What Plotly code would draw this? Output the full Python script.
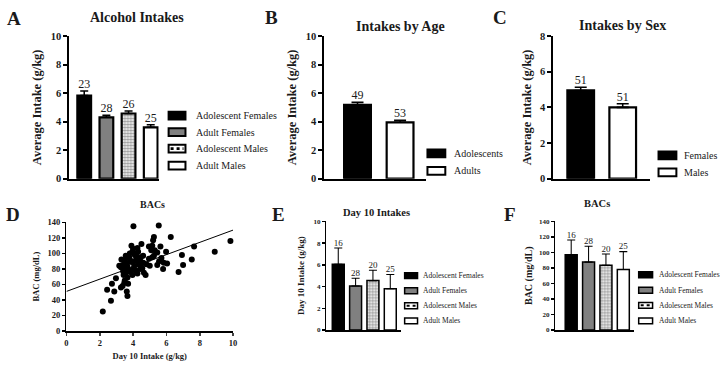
import plotly.graph_objects as go

FONT = "'Liberation Serif', 'Times New Roman', Times, serif"
W, H = 726, 370

# ---------------- data ----------------
groups = ["Adolescent Females", "Adult Females", "Adolescent Males", "Adult Males"]
intake_mean = [5.83, 4.30, 4.57, 3.60]
intake_sem = [0.32, 0.15, 0.18, 0.18]
intake_n = [23, 28, 26, 25]

ages = ["Adolescents", "Adults"]
age_mean = [5.17, 3.95]
age_sem = [0.18, 0.15]
age_n = [49, 53]

sexes = ["Females", "Males"]
sex_mean = [4.95, 4.00]
sex_sem = [0.18, 0.20]
sex_n = [51, 51]

day10_mean = [6.05, 4.05, 4.55, 3.80]
day10_sd = [1.50, 0.72, 0.95, 1.32]
day10_n = [16, 28, 20, 25]

bac_mean = [97, 87.5, 83.5, 78]
bac_sd = [19, 20.5, 14.5, 23]
bac_n = [16, 28, 20, 25]

scatter_intake = [2.18, 2.44, 2.73, 2.67, 2.87, 2.97, 4.02, 5.54, 6.26, 5.25, 5.20, 9.84,
                  8.90, 7.66, 7.52, 6.93, 7.00, 6.73, 5.98, 6.04, 5.80, 5.70, 5.64, 5.45,
                  5.56, 5.84, 5.00, 4.95, 5.09, 5.15, 4.65, 4.75, 4.50, 4.42, 4.26, 3.90,
                  3.96, 4.20, 4.36, 4.06, 3.76, 3.62, 3.47, 3.30, 3.37, 3.56, 3.66, 3.50,
                  3.37, 3.27, 3.62, 3.66, 3.47, 3.70, 3.82, 3.90, 4.16, 4.46, 4.61, 4.30,
                  4.46, 3.96, 3.66, 3.82, 4.06, 4.55, 3.17, 3.27, 3.43, 3.56, 4.26, 5.25,
                  4.95, 5.45, 5.15, 3.80, 4.10, 4.30, 3.50, 3.70, 4.00, 4.40, 3.90, 4.20,
                  3.60, 4.60, 3.40, 4.80, 5.30]
scatter_bac = [25, 53, 61, 39, 51, 68, 135, 136, 121, 121, 117, 116,
               102, 109, 92, 98, 85, 76, 102, 87, 80, 94, 109, 85,
               90, 88, 84, 109, 104, 95, 75, 72, 112, 80, 107, 110,
               102, 95, 89, 83, 95, 87, 79, 92, 85, 75, 69, 65,
               58, 56, 51, 45, 62, 61, 76, 89, 78, 84, 88, 102,
               95, 72, 83, 91, 90, 81, 84, 82, 72, 97, 74, 97,
               93, 101, 110, 100, 98, 86, 90, 80, 106, 92, 78, 100,
               95, 97, 77, 86, 104]
fit_intercept = 51.0
fit_slope = 7.9
fit_range = [0, 10]

# ---------------- styles ----------------
group_fill = ["black", "#808080", "white", "white"]
group_pattern = [None, None, ".", None]
two_fill = ["black", "white"]
two_pattern = [None, None]
TXT = "#1a1a1a"

fig = go.Figure()


def ax_ids(i):
    return ("x" if i == 1 else f"x{i}"), ("y" if i == 1 else f"y{i}")


def add_bars(i, cats, means, errs, ns, fills, patterns, lw, width, capw, nfont):
    xa, ya = ax_ids(i)
    for c, m, e, f, p in zip(cats, means, errs, fills, patterns):
        marker = dict(color=f, line=dict(color="black", width=lw))
        if p:
            marker["pattern"] = dict(shape=p, fgcolor="#333333", bgcolor="white",
                                     size=3, solidity=0.55)
        fig.add_trace(go.Bar(
            x=[c], y=[m], width=width, marker=marker,
            error_y=dict(type="data", array=[e], arrayminus=[0], symmetric=False,
                         color="black", thickness=lw * 0.7, width=capw),
            xaxis=xa, yaxis=ya, showlegend=False))
    fig.add_trace(go.Scatter(
        x=cats, y=[m + e for m, e in zip(means, errs)], text=[str(n) for n in ns],
        mode="text", textposition="top center",
        textfont=dict(family=FONT, size=nfont, color=TXT),
        xaxis=xa, yaxis=ya, showlegend=False, cliponaxis=False, hoverinfo="skip"))


def add_legend(x0, x1, ys, h, tx, fsize, labels, fills, patterns, lw):
    for y, lab, f, p in zip(ys, labels, fills, patterns):
        fig.add_shape(type="rect", xref="paper", yref="paper",
                      x0=x0 / W, x1=x1 / W, y0=1 - (y + h / 2) / H, y1=1 - (y - h / 2) / H,
                      line=dict(color="black", width=lw), fillcolor=f)
        if p:
            fig.add_shape(type="line", xref="paper", yref="paper",
                          x0=(x0 + 2) / W, x1=(x1 - 2) / W, y0=1 - y / H, y1=1 - y / H,
                          line=dict(color="black", width=h * 0.35, dash="dot"))
        fig.add_annotation(x=tx / W, y=1 - y / H, xref="paper", yref="paper", text=lab,
                           showarrow=False, xanchor="left", yanchor="middle", borderpad=0,
                           font=dict(family=FONT, size=fsize, color=TXT))


# Panels
add_bars(1, groups, intake_mean, intake_sem, intake_n, group_fill, group_pattern, 2.2, 0.62, 4, 12)
add_bars(2, ages, age_mean, age_sem, age_n, two_fill, two_pattern, 2.2, 0.63, 6, 12)
add_bars(3, sexes, sex_mean, sex_sem, sex_n, two_fill, two_pattern, 2.2, 0.635, 6, 12)

fig.add_trace(go.Scatter(x=scatter_intake, y=scatter_bac, mode="markers",
                         marker=dict(color="black", size=6), xaxis="x4", yaxis="y4",
                         showlegend=False, cliponaxis=False))
fig.add_trace(go.Scatter(x=fit_range, y=[fit_intercept + fit_slope * v for v in fit_range],
                         mode="lines", line=dict(color="black", width=1),
                         xaxis="x4", yaxis="y4", showlegend=False))

add_bars(5, groups, day10_mean, day10_sd, day10_n, group_fill, group_pattern, 1.5, 0.69, 4, 9)
add_bars(6, groups, bac_mean, bac_sd, bac_n, group_fill, group_pattern, 1.5, 0.69, 4, 9)


def dom(a, b, size):
    return [a / size, b / size]


def ydom(top, bottom):
    return [1 - bottom / H, 1 - top / H]


def cat_x(dm, rng, lw):
    return dict(domain=dm, type="category", range=rng, showline=True, linecolor="black",
                linewidth=lw, showticklabels=False, ticks="", showgrid=False, zeroline=False,
                fixedrange=True)


def num_y(dm, rng, dtick, lw, tfs, title, tsz, standoff, anchor, tl=4):
    return dict(domain=dm, range=rng, dtick=dtick, showline=True, linecolor="black",
                linewidth=lw, ticks="outside", ticklen=tl, tickwidth=lw, tickcolor="black",
                showgrid=False, zeroline=False, anchor=anchor,
                tickfont=dict(family=FONT, size=tfs, color=TXT, weight="bold"),
                title=dict(text=title, standoff=standoff,
                           font=dict(family=FONT, size=tsz, color=TXT, weight="bold")))


yA = "Average Intake (g/kg)"
fig.update_layout(
    width=W, height=H, margin=dict(l=0, r=0, t=0, b=0),
    paper_bgcolor="white", plot_bgcolor="rgba(0,0,0,0)",
    font=dict(family=FONT),
    barmode="overlay", showlegend=False,
    xaxis=dict(cat_x(dom(68, 158, W), [-0.667, 3.36], 2), anchor="y"),
    yaxis=num_y(ydom(32, 179), [0, 10], 2, 2, 10.5, yA, 12.5, 6, "x"),
    xaxis2=dict(cat_x(dom(325, 428, W), [-0.78, 1.62], 2), anchor="y2"),
    yaxis2=num_y(ydom(32, 179), [0, 10], 2, 2, 10.5, yA, 12.5, 6, "x2"),
    xaxis3=dict(cat_x(dom(556, 653, W), [-0.65, 1.64], 2), anchor="y3"),
    yaxis3=num_y(ydom(32, 179), [0, 8], 2, 2, 10.5, yA, 12.5, 6, "x3"),
    xaxis4=dict(domain=dom(65, 233, W), range=[0, 10], dtick=2, showline=True,
                linecolor="black", linewidth=1.5, ticks="outside", ticklen=3, tickwidth=1.5,
                showgrid=False, zeroline=False, anchor="y4",
                tickfont=dict(family=FONT, size=8.5, color=TXT, weight="bold"),
                title=dict(text="Day 10 Intake (g/kg)", standoff=6,
                           font=dict(family=FONT, size=8.5, color=TXT, weight="bold"))),
    yaxis4=num_y(ydom(224, 336), [0, 140], 20, 1.5, 8.5, "BAC (mg/dL)", 8.5, 6, "x4", 3),
    xaxis5=dict(cat_x(dom(327, 402, W), [-0.69, 3.6], 1.5), anchor="y5"),
    yaxis5=num_y(ydom(223, 335), [0, 10], 2, 1.5, 7, "Day 10 Intake (g/kg)", 9, 7, "x5", 3),
    xaxis6=dict(cat_x(dom(558, 637, W), [-0.91, 3.6], 1.5), anchor="y6"),
    yaxis6=num_y(ydom(223, 335), [0, 140], 20, 1.5, 7, "BAC (mg/dL)", 10, 4, "x6", 3),
)

# Panel letters and titles
letters = [("A", 12, 14), ("B", 272, 13), ("C", 502, 13), ("D", 11, 216), ("E", 279, 216), ("F", 512, 216)]
for t, x, y in letters:
    fig.add_annotation(x=x / W, y=1 - y / H, xref="paper", yref="paper", text=t, showarrow=False,
                       xanchor="center", yanchor="middle",
                       font=dict(family=FONT, size=19, color=TXT, weight="bold"))
titles = [("Alcohol Intakes", 136, 13, 14), ("Intakes by Age", 402, 22, 14),
          ("Intakes by Sex", 626, 21, 14), ("BACs", 152, 206, 10),
          ("Day 10 Intakes", 378, 214, 10.5), ("BACs", 600, 205, 10.5)]
for t, x, y, s in titles:
    fig.add_annotation(x=x / W, y=1 - y / H, xref="paper", yref="paper", text=t, showarrow=False,
                       xanchor="center", yanchor="middle",
                       font=dict(family=FONT, size=s, color=TXT, weight="bold"))

# Legends
add_legend(168, 185, [114, 131, 148, 165.5], 8, 195, 10, groups, group_fill, group_pattern, 2)
add_legend(429, 447, [153, 171], 8, 455, 10, ages, two_fill, two_pattern, 2)
add_legend(662, 680, [155, 172.5], 8, 687, 10, sexes, two_fill, two_pattern, 2)
add_legend(406, 419, [279, 294.5, 310, 325.5], 6, 424, 7.5, groups, group_fill, group_pattern, 1.5)
add_legend(642, 656, [278, 294, 309.5, 325.5], 6, 661, 7.5, groups, group_fill, group_pattern, 1.5)

fig.write_html("out.html", config={"displayModeBar": False, "staticPlot": True},
               post_script="document.body.style.margin='0px';document.body.style.overflow='hidden';")
